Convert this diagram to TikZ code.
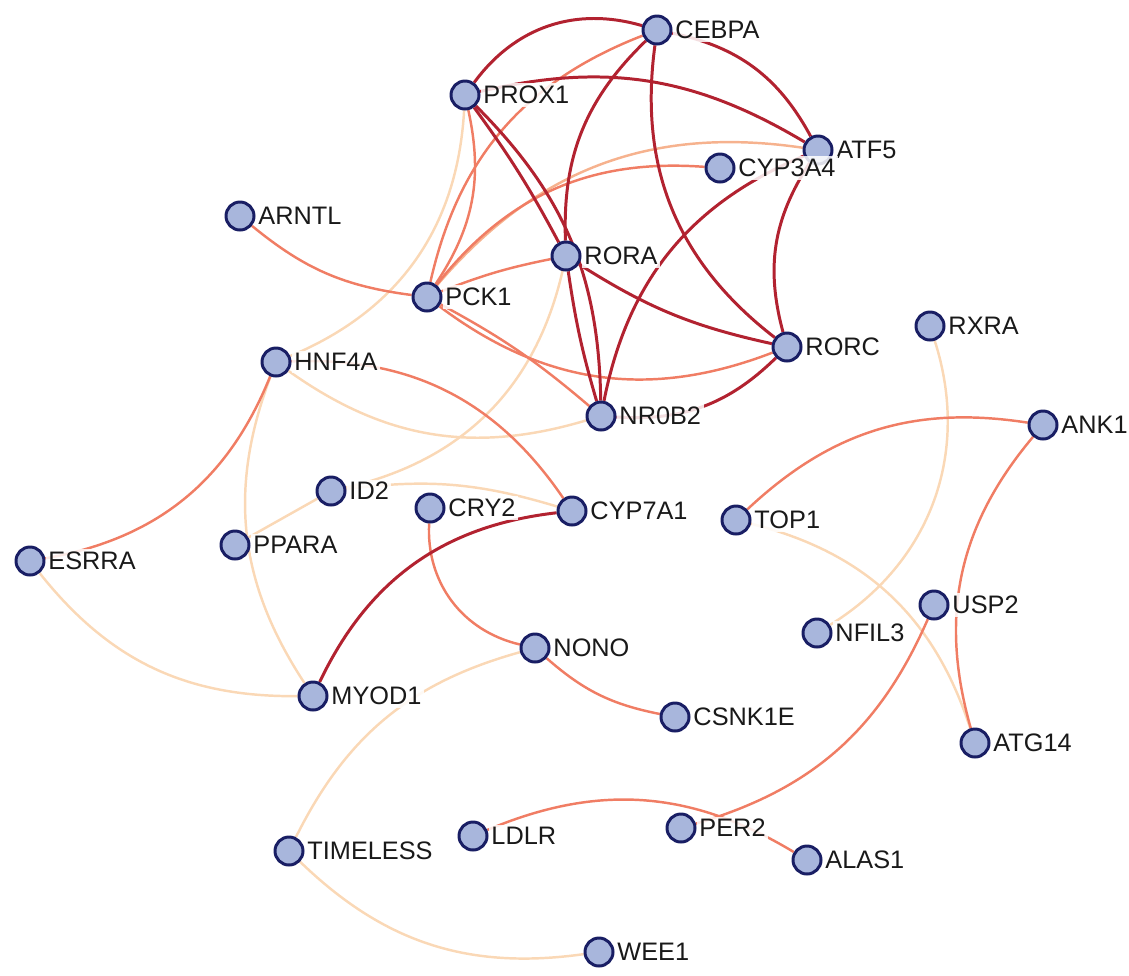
\documentclass[tikz,border=0pt]{standalone}
\usepackage{fontspec}
\setmainfont{Liberation Sans}
\pgfdeclarelayer{bg}
\pgfsetlayers{bg,main}
\definecolor{dkred}{RGB}{178,34,48}
\definecolor{orng}{RGB}{240,125,100}
\definecolor{midpeach}{RGB}{246,178,142}
\definecolor{ltpeach}{RGB}{250,216,182}
\definecolor{nodefill}{RGB}{168,182,220}
\definecolor{nodeline}{RGB}{25,30,100}
\definecolor{txt}{RGB}{25,25,25}
\tikzset{
  lbl/.style={font=\fontsize{14.4}{16}\selectfont, text=txt, inner sep=1.5pt,
    fill=white, fill opacity=0.85, text opacity=1},
  gene/.style={circle, draw=nodeline, fill=nodefill, line width=1.7pt,
    minimum size=0.56cm, inner sep=0pt, label distance=0.09cm,
    label={[lbl]right:#1}},
  edgeD/.style={draw=dkred, line width=1.7pt},
  edgeO/.style={draw=orng, line width=1.4pt},
  edgeM/.style={draw=midpeach, line width=1.4pt},
  edgeL/.style={draw=ltpeach, line width=1.4pt},
}
\begin{document}
\begin{tikzpicture}[x=0.02cm, y=-0.02cm]
\useasboundingbox (0,0) rectangle (1129,975);
% nodes
\node[gene=CEBPA] (CEBPA) at (657,30) {};
\node[gene=PROX1] (PROX1) at (465,95) {};
\node[gene=ATF5] (ATF5) at (818,150) {};
\node[gene=CYP3A4] (CYP3A4) at (720,168) {};
\node[gene=ARNTL] (ARNTL) at (240,216) {};
\node[gene=RORA] (RORA) at (566,256) {};
\node[gene=PCK1] (PCK1) at (427,297) {};
\node[gene=RORC] (RORC) at (787,347) {};
\node[gene=RXRA] (RXRA) at (930,326) {};
\node[gene=HNF4A] (HNF4A) at (276,362) {};
\node[gene=NR0B2] (NR0B2) at (601,416) {};
\node[gene=ANK1] (ANK1) at (1043,425) {};
\node[gene=ID2] (ID2) at (331,491) {};
\node[gene=CRY2] (CRY2) at (430,508) {};
\node[gene=CYP7A1] (CYP7A1) at (572,511) {};
\node[gene=TOP1] (TOP1) at (736,520) {};
\node[gene=ESRRA] (ESRRA) at (30,561) {};
\node[gene=PPARA] (PPARA) at (235,545) {};
\node[gene=USP2] (USP2) at (934,605) {};
\node[gene=NFIL3] (NFIL3) at (817,633) {};
\node[gene=NONO] (NONO) at (535,648) {};
\node[gene=MYOD1] (MYOD1) at (313,696) {};
\node[gene=CSNK1E] (CSNK1E) at (675,717) {};
\node[gene=ATG14] (ATG14) at (975,743) {};
\node[gene=TIMELESS] (TIMELESS) at (289,851) {};
\node[gene=LDLR] (LDLR) at (473,836) {};
\node[gene=PER2] (PER2) at (681,828) {};
\node[gene=ALAS1] (ALAS1) at (807,860) {};
\node[gene=WEE1] (WEE1) at (599,952) {};
% edges
\begin{pgfonlayer}{bg}
% light
\draw[edgeL] (PROX1) to[bend left=32] (HNF4A);
\draw[edgeL] (RORA) to[bend left=32] (ID2);
\draw[edgeL] (HNF4A) to[bend right=26] (NR0B2);
\draw[edgeL] (HNF4A) to[bend right=27] (MYOD1);
\draw[edgeL] (PPARA) to (ID2);
\draw[edgeL] (ID2) to[bend left=12] (CYP7A1);
\draw[edgeL] (ESRRA) to[bend right=26] (MYOD1);
\draw[edgeL] (NONO) to[bend right=24] (TIMELESS);
\draw[edgeL] (TIMELESS) to[bend right=26] (WEE1);
\draw[edgeL] (TOP1) to[bend left=29] (ATG14);
\draw[edgeL] (RXRA) to[bend left=38] (NFIL3);
% mid
\draw[edgeM] (PCK1) to[bend left=29] (ATF5);
% orange
\draw[edgeO] (ARNTL) to[bend right=16] (PCK1);
\draw[edgeO] (PCK1) to[bend left=5] (RORA);
\draw[edgeO] (PCK1) to[bend right=23] (PROX1);
\draw[edgeO] (PCK1) to[bend left=28] (CEBPA);
\draw[edgeO] (PCK1) to[bend left=28] (CYP3A4);
\draw[edgeO] (PCK1) to[bend left=6] (NR0B2);
\draw[edgeO] (PCK1) to[bend right=29] (RORC);
\draw[edgeO] (HNF4A) to[bend left=29] (CYP7A1);
\draw[edgeO] (HNF4A) to[bend left=29] (ESRRA);
\draw[edgeO] (CRY2) to[bend right=40] (NONO);
\draw[edgeO] (NONO) to[bend right=15] (CSNK1E);
\draw[edgeO] (LDLR) to[bend left=27] (ALAS1);
\draw[edgeO] (USP2) to[bend left=25] (PER2);
\draw[edgeO] (TOP1) to[bend left=26] (ANK1);
\draw[edgeO] (ANK1) to[bend right=28] (ATG14);
% dark
\draw[edgeD] (PROX1) to[bend left=35] (CEBPA);
\draw[edgeD] (CEBPA) to[bend left=25] (ATF5);
\draw[edgeD] (PROX1) to[bend left=22] (ATF5);
\draw[edgeD] (CEBPA) to[bend right=24] (RORA);
\draw[edgeD] (CEBPA) to[bend right=30] (RORC);
\draw[edgeD] (PROX1) to[bend left=4] (RORA);
\draw[edgeD] (PROX1) to[bend left=22] (NR0B2);
\draw[edgeD] (RORA) to[bend right=4] (NR0B2);
\draw[edgeD] (RORA) to[bend right=10] (RORC);
\draw[edgeD] (ATF5) to[bend right=24] (RORC);
\draw[edgeD] (ATF5) to[bend right=28] (NR0B2);
\draw[edgeD] (RORC) to[bend left=24] (NR0B2);
\draw[edgeD] (CYP7A1) to[bend right=29] (MYOD1);
\end{pgfonlayer}
\end{tikzpicture}
\end{document}
